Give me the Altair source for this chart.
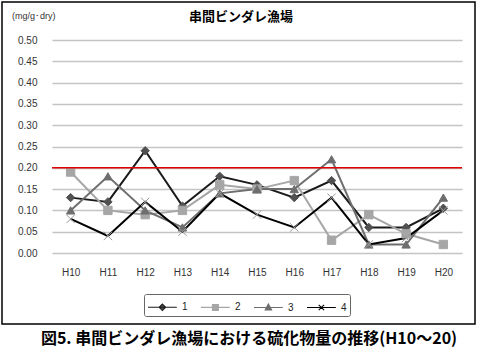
import altair as alt
import pandas as pd

years = ["H10", "H11", "H12", "H13", "H14", "H15", "H16", "H17", "H18", "H19", "H20"]
s1 = [0.13, 0.12, 0.24, 0.11, 0.18, 0.16, 0.13, 0.17, 0.06, 0.06, 0.105]
s2 = [0.19, 0.10, 0.09, 0.10, 0.16, 0.15, 0.17, 0.03, 0.09, 0.045, 0.02]
s3 = [0.10, 0.18, 0.10, 0.06, 0.14, 0.15, 0.15, 0.22, 0.02, 0.02, 0.13]
s4 = [0.08, 0.04, 0.12, 0.05, 0.14, 0.09, 0.06, 0.13, 0.02, 0.035, 0.10]
series_names = ["1", "2", "3", "4"]
threshold = [0.20]
y_ticks = [0.00, 0.05, 0.10, 0.15, 0.20, 0.25, 0.30, 0.35, 0.40, 0.45, 0.50]

title_text = "串間ビンダレ漁場"
unit_text = "(mg/g･dry)"
caption_text = "図5.  串間ビンダレ漁場における硫化物量の推移(H10～20)"

line_colors = ["#1a1a1a", "#a6a6a6", "#6e6e6e", "#000000"]
marker_colors = ["#505050", "#a6a6a6", "#6e6e6e", "#9a9a9a"]
marker_shapes = ["diamond", "square", "triangle-up", "M-1,-1L1,1M-1,1L1,-1"]
legend_shapes = [
    "M-1,0L2.2,0M0.6,-0.36L0.96,0L0.6,0.36L0.24,0Z",
    "M-1,0L2.2,0M0.27,-0.33L0.93,-0.33L0.93,0.33L0.27,0.33Z",
    "M-1,0L2.2,0M0.6,-0.4L0.96,0.28L0.24,0.28Z",
    "M-1,0L2.2,0M0.3,-0.3L0.9,0.3M0.3,0.3L0.9,-0.3",
]

rows = []
for name, vals in zip(series_names, [s1, s2, s3, s4]):
    for y, v in zip(years, vals):
        rows.append({"year": y, "value": v, "s": name})
df = pd.DataFrame(rows)

W, H = 410, 213

x_axis = alt.Axis(title=None, labelAngle=0, ticks=False, domain=False,
                  grid=False, labelPadding=14, labelFontSize=10,
                  labelFont="Liberation Sans", labelColor="#333333")
y_axis = alt.Axis(title=None, values=y_ticks, format=".2f", labelOverlap=False,
                  ticks=False, domain=False, grid=True, gridColor="#c4c4c4",
                  gridWidth=1.5, labelPadding=15, labelFontSize=10,
                  labelFont="Liberation Sans", labelColor="#333333")
x_scale = alt.Scale(type="point", padding=0.5)
y_scale = alt.Scale(domain=[0, 0.5], nice=False, zero=True)

base = alt.Chart(df)

lines = base.mark_line(strokeWidth=2).encode(
    x=alt.X("year:N", sort=years, scale=x_scale, axis=x_axis),
    y=alt.Y("value:Q", scale=y_scale, axis=y_axis),
    color=alt.Color("s:N", scale=alt.Scale(domain=series_names, range=line_colors), legend=None),
    detail="s:N",
)

points = base.mark_point(filled=False, strokeWidth=1, opacity=1).encode(
    x=alt.X("year:N", sort=years, axis=x_axis),
    y=alt.Y("value:Q", axis=y_axis),
    shape=alt.Shape("s:N", scale=alt.Scale(domain=series_names, range=marker_shapes), legend=None),
    fill=alt.Fill("s:N", scale=alt.Scale(domain=series_names, range=marker_colors), legend=None),
    stroke=alt.Stroke("s:N", scale=alt.Scale(domain=series_names, range=marker_colors), legend=None),
    size=alt.value(70),
)

thr = alt.Chart(pd.DataFrame({"t": threshold})).mark_rule(color="#e00000", strokeWidth=1.5).encode(
    y=alt.Y("t:Q", axis=y_axis)
)

legend_layer = base.transform_filter("false").mark_point(filled=False, opacity=1).encode(
    shape=alt.Shape("s:N", scale=alt.Scale(domain=series_names, range=legend_shapes),
                    legend=alt.Legend(title=None, orient="none", direction="horizontal",
                                      legendX=92, legendY=254, symbolSize=324,
                                      symbolStrokeWidth=1.1, labelFontSize=10,
                                      labelFont="Liberation Sans", labelColor="#222222",
                                      strokeColor="#666666", padding=3, cornerRadius=2,
                                      columnPadding=10, labelOffset=15, rowPadding=0)),
    fill=alt.Fill("s:N", scale=alt.Scale(domain=series_names, range=marker_colors)),
    stroke=alt.Stroke("s:N", scale=alt.Scale(domain=series_names, range=line_colors)),
)

one = pd.DataFrame({"k": [0]})
title_mark = alt.Chart(one).mark_text(
    text=title_text, font="Noto Sans CJK JP", fontSize=13, fontWeight="bold",
    align="center", baseline="middle", color="#000000"
).encode(x=alt.value(189), y=alt.value(-23))

unit_mark = alt.Chart(one).mark_text(
    text=unit_text, font="Liberation Sans", fontSize=9, align="left",
    baseline="middle", color="#333333"
).encode(x=alt.value(-40), y=alt.value(-24))

caption_mark = alt.Chart(one).mark_text(
    text=caption_text, font="Noto Sans CJK JP", fontSize=16, fontWeight="bold",
    align="center", baseline="middle", color="#000000"
).encode(x=alt.value(197), y=alt.value(299))

border = alt.Chart(one).mark_rect(filled=False, stroke="#000000", strokeWidth=1.5).encode(
    x=alt.value(-50), x2=alt.value(423), y=alt.value(-38), y2=alt.value(284)
)

chart = alt.layer(border, lines, points, thr, legend_layer, title_mark, unit_mark, caption_mark).resolve_scale(
    shape="independent", fill="independent", stroke="independent"
).properties(
    width=W, height=H,
    autosize=alt.AutoSizeParams(type="none"),
    padding={"left": 52, "top": 40, "right": 18, "bottom": 103},
).configure(
    background="white",
    view=alt.ViewConfig(stroke="transparent", strokeWidth=0),
)

chart.save("out.html", embed_options={"renderer": "svg", "actions": False})
